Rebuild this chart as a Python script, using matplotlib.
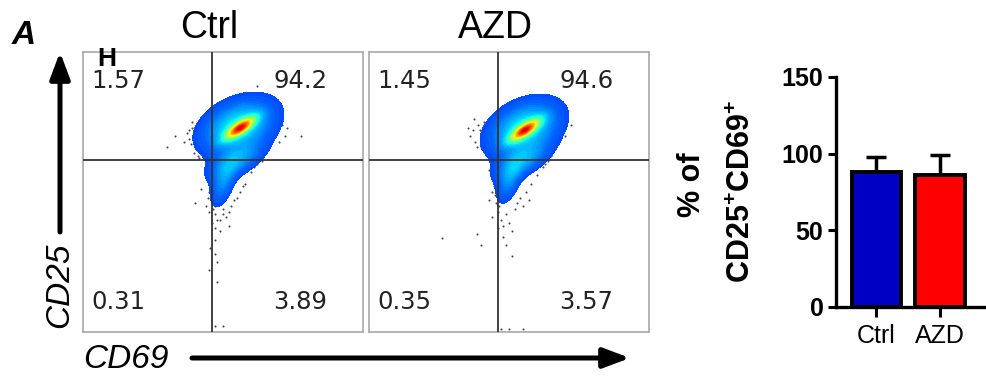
import numpy as np
import matplotlib.pyplot as plt
from matplotlib.colors import LinearSegmentedColormap, PowerNorm
from matplotlib.patches import FancyArrowPatch

plt.rcParams['font.family'] = ['Liberation Sans', 'DejaVu Sans']
plt.rcParams['mathtext.fontset'] = 'custom'
plt.rcParams['mathtext.rm'] = 'Liberation Sans:bold'
plt.rcParams['mathtext.bf'] = 'Liberation Sans:bold'

# flow panels
samples = ['Ctrl', 'AZD']
q_upper_left = ['1.57', '1.45']
q_upper_right = ['94.2', '94.6']
q_lower_left = ['0.31', '0.35']
q_lower_right = ['3.89', '3.57']
gate_x = 0.46
gate_y = 0.614

# populations: (cx, cy, sx, sy, rho, weight) in scaled fluorescence units
ctrl_pops = [(0.562, 0.729, 0.036, 0.026, 0.80, 1.0),
             (0.555, 0.735, 0.080, 0.060, 0.35, 0.55),
             (0.545, 0.610, 0.060, 0.042, 0.60, 0.32),
             (0.500, 0.530, 0.028, 0.052, 0.50, 0.25)]
azd_pops = [(0.557, 0.721, 0.036, 0.026, 0.80, 1.0),
            (0.555, 0.728, 0.078, 0.060, 0.35, 0.55),
            (0.545, 0.610, 0.060, 0.042, 0.60, 0.32),
            (0.500, 0.540, 0.028, 0.050, 0.50, 0.25)]

ctrl_dots_x = [0.37, 0.38, 0.39, 0.40, 0.395, 0.41, 0.36, 0.33, 0.30, 0.42, 0.45, 0.44, 0.45, 0.455, 0.45, 0.46,
               0.465, 0.47, 0.46, 0.48, 0.50, 0.52, 0.53, 0.54, 0.56, 0.58, 0.60, 0.62, 0.63, 0.42, 0.44, 0.49,
               0.52, 0.47, 0.48, 0.40, 0.69, 0.70, 0.71, 0.73, 0.69, 0.72, 0.78, 0.62, 0.47, 0.50, 0.60, 0.43,
               0.455, 0.47, 0.45, 0.48, 0.39, 0.40, 0.385, 0.445, 0.47, 0.49, 0.51, 0.70,
               0.44, 0.45, 0.47, 0.50, 0.55, 0.57, 0.61, 0.64, 0.38, 0.405, 0.415, 0.705]
ctrl_dots_y = [0.71, 0.69, 0.73, 0.66, 0.64, 0.63, 0.68, 0.70, 0.66, 0.74, 0.79, 0.60, 0.57, 0.54, 0.50, 0.47,
               0.44, 0.42, 0.39, 0.40, 0.42, 0.43, 0.45, 0.47, 0.50, 0.53, 0.57, 0.60, 0.62, 0.51, 0.45, 0.36,
               0.38, 0.33, 0.25, 0.46, 0.72, 0.76, 0.74, 0.73, 0.80, 0.70, 0.70, 0.88, 0.02, 0.02, 0.65, 0.68,
               0.30, 0.28, 0.22, 0.18, 0.75, 0.70, 0.67, 0.48, 0.37, 0.40, 0.41, 0.68,
               0.56, 0.43, 0.45, 0.44, 0.48, 0.52, 0.59, 0.61, 0.72, 0.68, 0.62, 0.78]
azd_dots_x = [0.36, 0.37, 0.38, 0.39, 0.40, 0.41, 0.375, 0.355, 0.42, 0.43, 0.44, 0.445, 0.45, 0.455, 0.46,
              0.47, 0.48, 0.49, 0.50, 0.51, 0.43, 0.44, 0.54, 0.56, 0.58, 0.60, 0.62, 0.64, 0.65, 0.55, 0.57,
              0.26, 0.385, 0.40, 0.49, 0.51, 0.67, 0.68, 0.69, 0.70, 0.72, 0.47, 0.50, 0.55, 0.46, 0.48,
              0.395, 0.405, 0.435, 0.455, 0.52, 0.53, 0.44, 0.465, 0.59, 0.63, 0.41, 0.385]
azd_dots_y = [0.70, 0.72, 0.68, 0.74, 0.66, 0.70, 0.76, 0.73, 0.64, 0.58, 0.55, 0.52, 0.49, 0.46, 0.43,
              0.40, 0.38, 0.42, 0.39, 0.36, 0.47, 0.41, 0.48, 0.50, 0.53, 0.56, 0.59, 0.61, 0.63, 0.45, 0.47,
              0.335, 0.35, 0.31, 0.31, 0.27, 0.68, 0.72, 0.76, 0.70, 0.74, 0.01, 0.01, 0.01, 0.37, 0.34,
              0.72, 0.69, 0.61, 0.50, 0.44, 0.46, 0.50, 0.45, 0.58, 0.60, 0.75, 0.66]

# bar chart
groups = ['Ctrl', 'AZD']
means = [88.0, 86.0]
sems = [9.8, 13.0]
bar_colors = ['#0000c4', '#ff0000']


def density(pops, X, Y):
    Z = np.zeros_like(X)
    for cx, cy, sx, sy, rho, w in pops:
        dx = (X - cx) / sx
        dy = (Y - cy) / sy
        q = (dx * dx - 2 * rho * dx * dy + dy * dy) / (1 - rho ** 2)
        Z += w * np.exp(-0.5 * q)
    return Z / Z.max()


jet = plt.get_cmap('jet')
blob_cmap = LinearSegmentedColormap.from_list('blob', jet(np.linspace(0.2, 0.92, 256)))

fig = plt.figure(figsize=(9.87, 3.77), dpi=100)

gx = np.linspace(0, 1, 500)
X, Y = np.meshgrid(gx, gx)
all_pops = [ctrl_pops, azd_pops]
all_dots = [(ctrl_dots_x, ctrl_dots_y), (azd_dots_x, azd_dots_y)]
lefts = [83 / 987, 369 / 987]

for i, name in enumerate(samples):
    ax = fig.add_axes([lefts[i], 45 / 377, 280 / 987, 280 / 377])
    Z = density(all_pops[i], X, Y)
    thr = 0.045
    ax.scatter(all_dots[i][0], all_dots[i][1], s=2.2, color='#444444', zorder=1, linewidths=0)
    ax.contourf(X, Y, Z, levels=np.linspace(thr, 1.0, 40), cmap=blob_cmap,
                norm=PowerNorm(1.25, vmin=thr, vmax=1.0), zorder=2)
    ax.axvline(gate_x, color='#333333', lw=1.3, zorder=3)
    ax.axhline(gate_y, color='#333333', lw=1.3, zorder=3)
    ax.set_xlim(0, 1)
    ax.set_ylim(0, 1)
    ax.set_xticks([])
    ax.set_yticks([])
    for sp in ax.spines.values():
        sp.set_color('#a8a8a8')
        sp.set_linewidth(1.2)
    kw = dict(family='DejaVu Sans', fontsize=17.5, color='#222222', va='center', ha='left', transform=ax.transAxes)
    ax.text(0.03, 0.895, q_upper_left[i], **kw)
    ax.text(0.68, 0.895, q_upper_right[i], **kw)
    ax.text(0.03, 0.107, q_lower_left[i], **kw)
    ax.text(0.68, 0.107, q_lower_right[i], **kw)
    fig.text(lefts[i] + 0.452 * 280 / 987, 1 - 28 / 377, name, fontsize=27, ha='center', va='center')

# axis labels and arrows of the flow plots
fig.text(60 / 987, 1 - 285 / 377, 'CD25', fontsize=24, style='italic', rotation=90, ha='center', va='center')
fig.text(83 / 987, 1 - 360 / 377, 'CD69', fontsize=24, style='italic', ha='left', va='center')
fig.add_artist(FancyArrowPatch((60 / 987, 1 - 232 / 377), (60 / 987, 1 - 52 / 377), transform=fig.transFigure,
                               arrowstyle='-|>,head_length=0.8,head_width=0.3', mutation_scale=20,
                               lw=3.6, color='black', shrinkA=0, shrinkB=0))
fig.add_artist(FancyArrowPatch((192 / 987, 1 - 358 / 377), (630 / 987, 1 - 358 / 377), transform=fig.transFigure,
                               arrowstyle='-|>,head_length=0.8,head_width=0.3', mutation_scale=20,
                               lw=3.6, color='black', shrinkA=0, shrinkB=0))
fig.text(12 / 987, 1 - 36 / 377, 'A', fontsize=24, weight='bold', style='italic', ha='left', va='center')
fig.text(97 / 987, 1 - 59 / 377, 'H', fontsize=19, weight='bold', ha='left', va='center')

# bar chart
bx = fig.add_axes([836 / 987, 70 / 377, 149 / 987, 230 / 377])
xs = np.arange(len(groups))
bx.errorbar(xs, means, yerr=[[0, 0], sems], fmt='none', ecolor='black', elinewidth=2.5,
            capsize=7, capthick=2.5, zorder=2)
bx.bar(xs, means, width=0.78, color=bar_colors, edgecolor='black', linewidth=2.8, zorder=3)
bx.set_ylim(0, 150)
bx.set_xlim(-0.633, 1.70)
bx.set_yticks([0, 50, 100, 150])
bx.set_xticks(xs)
bx.set_xticklabels(groups, fontsize=18)
for lab in bx.get_yticklabels():
    lab.set_fontsize(18)
    lab.set_fontweight('bold')
bx.tick_params(axis='y', length=6, width=2.2, pad=3)
bx.tick_params(axis='x', length=7, width=2.2, pad=5)
for s in ['top', 'right']:
    bx.spines[s].set_visible(False)
for s in ['left', 'bottom']:
    bx.spines[s].set_linewidth(2.4)

fig.text(692 / 987, 1 - 185 / 377, '% of', fontsize=22, weight='bold', rotation=90, ha='center', va='center')
fig.text(742 / 987, 1 - 191 / 377, r'CD25$^{+}$CD69$^{+}$', fontsize=22, weight='bold', rotation=90,
         ha='center', va='center')

fig.savefig('out.png', dpi=100)
